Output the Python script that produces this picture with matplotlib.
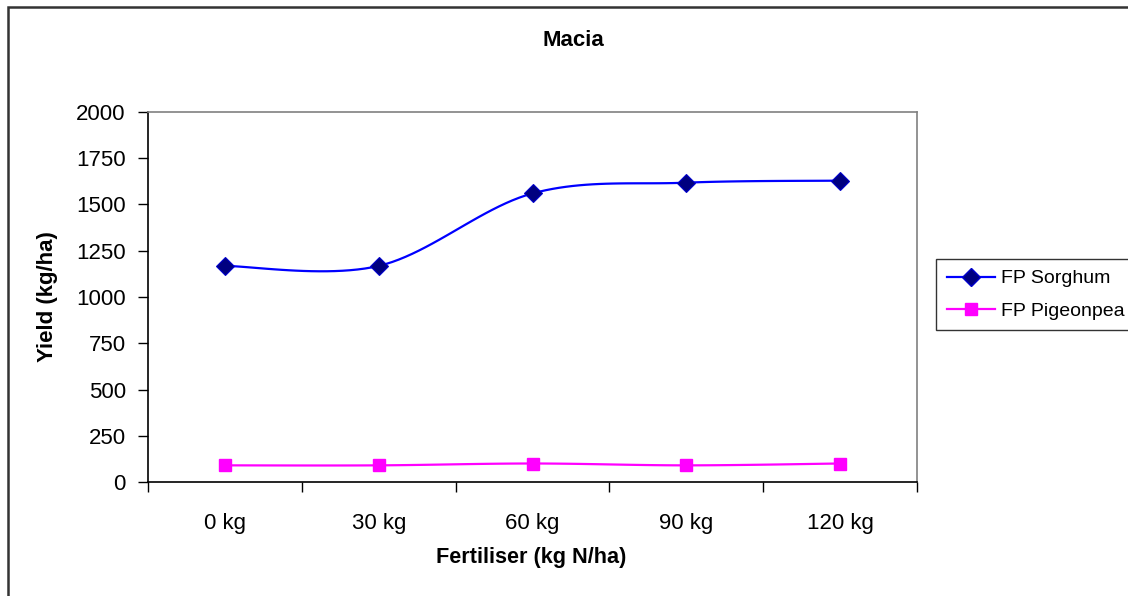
import numpy as np
import matplotlib
matplotlib.use("Agg")
import matplotlib.pyplot as plt
from matplotlib.patches import Rectangle
from matplotlib.lines import Line2D

categories = ["0 kg", "30 kg", "60 kg", "90 kg", "120 kg"]
sorghum = [1168, 1168, 1560, 1618, 1629]
pigeonpea = [90, 90, 100, 90, 100]
title = "Macia"
xlabel = "Fertiliser (kg N/ha)"
ylabel = "Yield (kg/ha)"
yticks = [0, 250, 500, 750, 1000, 1250, 1500, 1750, 2000]

plt.rcParams['font.family'] = ['Liberation Sans', 'DejaVu Sans']


def smooth(xs, ys, n=24):
    """Excel-style smoothed line: Bezier segments with Catmull-Rom control points."""
    P = np.column_stack([xs, ys]).astype(float)
    m = len(P)
    out = [P[0]]
    for i in range(m - 1):
        p0 = P[max(i - 1, 0)]
        p1 = P[i]
        p2 = P[i + 1]
        p3 = P[min(i + 2, m - 1)]
        c1 = p1 + (p2 - p0) / 6.0
        c2 = p2 - (p3 - p1) / 6.0
        t = np.linspace(0, 1, n)[1:, None]
        seg = ((1 - t) ** 3) * p1 + 3 * ((1 - t) ** 2) * t * c1 + 3 * (1 - t) * t ** 2 * c2 + t ** 3 * p2
        out.extend(seg)
    out = np.array(out)
    return out[:, 0], out[:, 1]


fig = plt.figure(figsize=(11.28, 5.96), dpi=100)
W, H = 1128, 596
ax = fig.add_axes([148 / W, 1 - 482 / H, (917 - 148) / W, (482 - 112) / H])

x = np.arange(len(categories))

sx, sy = smooth(x, sorghum)
ax.plot(sx, sy, color="#0000FF", lw=1.6, zorder=3)
ax.plot(x, sorghum, ls="none", marker="D", ms=9, color="#000080",
        mec="#0000CC", mew=0.8, zorder=4)

px, py = smooth(x, pigeonpea)
ax.plot(px, py, color="#FF00FF", lw=1.6, zorder=3)
ax.plot(x, pigeonpea, ls="none", marker="s", ms=8.5, color="#FF00FF",
        mec="#FF00FF", zorder=4)

ax.set_xlim(-0.5, len(categories) - 0.5)
ax.set_ylim(0, 2000)
ax.set_yticks(yticks)
ax.set_yticklabels([str(v) for v in yticks])
ax.set_xticks(np.arange(-0.5, len(categories), 1.0))
ax.set_xticklabels([])
ax.set_xticks(x, minor=True)
ax.set_xticklabels(categories, minor=True)
ax.tick_params(axis="x", which="minor", length=0, pad=22, labelsize=16)
ax.tick_params(axis="x", which="major", length=7, width=1, direction="out", color="black")
ax.tick_params(axis="y", length=7, width=1, direction="out", pad=9, labelsize=16, color="black")

for s in ["top", "right"]:
    ax.spines[s].set_color("#808080")
    ax.spines[s].set_linewidth(1.2)
for s in ["left", "bottom"]:
    ax.spines[s].set_color("black")
    ax.spines[s].set_linewidth(1.2)

fig.text(573 / W, 1 - 40 / H, title, ha="center", va="center", fontsize=16, fontweight="bold")
fig.text(531 / W, 1 - 558 / H, xlabel, ha="center", va="center", fontsize=15.6, fontweight="bold")
fig.text(48 / W, 1 - 297 / H, ylabel, ha="center", va="center", rotation=90, fontsize=16, fontweight="bold")

# outer chart border
fig.add_artist(Rectangle((8 / W, -0.1), 1.2, 1 - 7 / H + 0.1, transform=fig.transFigure,
                         fill=False, ec="#333333", lw=1.8))

handles = [
    Line2D([], [], color="#0000FF", lw=1.6, marker="D", ms=9, mfc="#000080", mec="#0000CC"),
    Line2D([], [], color="#FF00FF", lw=1.6, marker="s", ms=8.5, mfc="#FF00FF", mec="#FF00FF"),
]
leg = fig.legend(handles, ["FP Sorghum", "FP Pigeonpea"], loc="upper left",
                 bbox_to_anchor=(936 / W, 1 - 259 / H), borderaxespad=0,
                 frameon=True, fancybox=False, fontsize=14, handlelength=2.5,
                 handletextpad=0.3, borderpad=0.55, labelspacing=0.75)
leg.get_frame().set_edgecolor("black")
leg.get_frame().set_linewidth(1.0)

fig.savefig("out.png", dpi=100)
